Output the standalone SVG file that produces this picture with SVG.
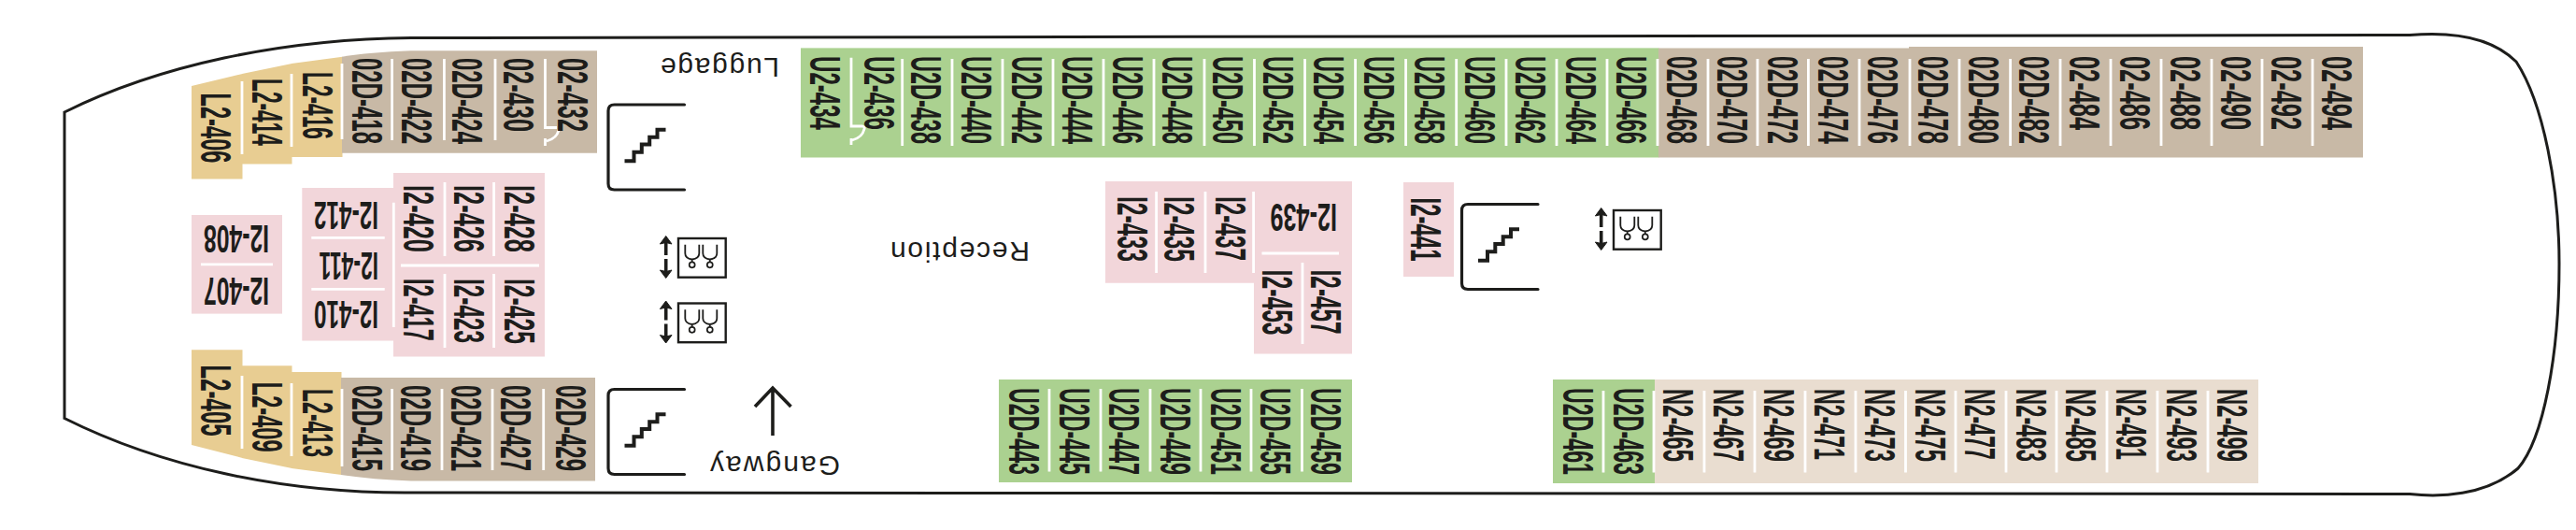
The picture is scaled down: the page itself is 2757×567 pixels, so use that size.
<svg xmlns="http://www.w3.org/2000/svg" xmlns:xlink="http://www.w3.org/1999/xlink" width="2757" height="567" viewBox="0 0 2757 567">
<style>
text{fill:#1d1d1b;font-family:"Liberation Sans",Arial,sans-serif}
.c{font-size:46px;font-weight:700}
.s{font-size:42px;font-weight:700}
.l{font-size:30px}
.sep{fill:none;stroke:#fff;stroke-width:2.8}
.ink{fill:none;stroke:#1d1d1b;stroke-width:3.200}
.tan{fill:#c8b9a6}.yel{fill:#e8cd92}.grn{fill:#abd190}.pnk{fill:#f2d6da}.bge{fill:#e9ddd0}
</style>
<defs>
<g id="stair">
<path class="ink" d="M83 1.500H8Q1.500 1.500 1.500 8V86Q1.500 92.500 8 92.500H83" stroke-linecap="round"/>
<path d="M19 61.700H29V52.300H37.300V44H45.700V36.300H54V28.300H63" fill="none" stroke="#1d1d1b" stroke-width="4"/>
</g>
<g id="lift">
<rect x="14" y="1" width="50.700" height="41.700" fill="none" stroke="#1d1d1b" stroke-width="2.400"/>
<path d="M21.300 7.700V17Q21.300 22.500 28.700 23.500V26M36.300 7.700V17Q36.300 22.500 28.700 23.500M40.300 7.700V17Q40.300 22.500 47.800 23.500V26M55.300 7.700V17Q55.300 22.500 47.800 23.500" fill="none" stroke="#1d1d1b" stroke-width="1.800"/>
<circle cx="28.700" cy="29.300" r="3" fill="none" stroke="#1d1d1b" stroke-width="1.700"/>
<circle cx="47.800" cy="29.300" r="3" fill="none" stroke="#1d1d1b" stroke-width="1.700"/>
<path d="M.7 19V5M.7 23V37" fill="none" stroke="#1d1d1b" stroke-width="3.600"/>
<path d="M.7 -1.500L7 7 .7 5.500-5.600 7ZM.7 43.500L7 35 .7 36.500-5.600 35Z" fill="#1d1d1b" stroke="#1d1d1b" stroke-width="1"/>
</g>
</defs>
<rect width="2757" height="567" fill="#fff"/>
<path id="hull" d="M69 120V447.500C170 498 300 528 440 527L2579 528.500C2610 532 2660 531 2695 501C2722 470 2739 380 2739 282C2739 200 2722 110 2693 66C2665 38 2620 34 2579 37.500L440 40.500C300 42 170 70 69 120Z" fill="none" stroke="#1d1d1b" stroke-width="3"/>

<g id="blocks">
<path class="yel" d="M205 92L259.500 79V191.500H205Z"/>
<path class="yel" d="M259 79L312.500 68V175.500H259Z"/>
<path class="yel" d="M312 68L366.500 60.800V168H312Z"/>
<path class="tan" d="M366 60.800Q395 56 440 54.300H639V163.800H366Z"/>
<path class="yel" d="M205 374.300H259.500V490L205 476Z"/>
<path class="yel" d="M259 391.300H312.500V501L259 490Z"/>
<path class="yel" d="M312 398H365.500V508L312 501Z"/>
<path class="tan" d="M365 404H637V514.600H440Q400 513 365 508Z"/>
<rect class="pnk" x="205" y="230" width="97" height="105.600"/>
<path class="pnk" d="M323.300 201H421V185H583V381.500H421V364.600H323.300Z"/>
<rect class="grn" x="857" y="51.400" width="918.500" height="117.100"/>
<path class="tan" d="M1775 51.400H2043V50H2529V168.500H1775Z"/>
<rect class="grn" x="1069" y="406" width="378" height="110"/>
<rect class="grn" x="1662" y="406" width="109.500" height="111"/>
<rect class="bge" x="1771" y="406" width="646" height="111"/>
<path class="pnk" d="M1183 194H1447V378.600H1342V302.700H1183Z"/>
<rect class="pnk" x="1502" y="195" width="54" height="101"/>
</g>

<g id="dividers">
<path class="sep" d="M366 68V149M419.600 63V150M475.400 63V150M530 63V150M583.500 63V136.500H596M598 139Q596 148 585 151M583.500 148V156"/>
<path class="sep" d="M259 87V165M312 79V157M366 416V499M419.600 416V503M473 416V503M527 416V503M581.700 416V503M259 402V480M312 410V488"/>
<path class="sep" d="M215 282.800H292M333.300 254.300H411.700M333.300 309.300H411.700M421.300 216.700V350M476 195V274M528.600 195V274M476 293V372M528.600 293V372M429 284H577"/>
<path class="sep" d="M911 61.700V135H923Q926 136 925 138Q923 147 912 150M911 148V155M965.700 63V156M1019 63V156M1073 63V156M1127 63V156M1181 63V156M1235 63V156M1289 63V156M1342.500 63V156M1396.600 63V156M1450.600 63V156M1504.600 63V156M1558.700 63V156M1612 63V156M1666 63V156M1720 63V156M1774 63V156M1828 63V156M1881 63V156M1935.400 63V156M1990 63V156M2044 63V156M2097 63V156M2151.600 63V156M2205 63V156M2259 63V156M2313 63V156M2367 63V156M2421 63V156M2475 63V156"/>
<path class="sep" d="M1123 416V504.500M1178 416V504.500M1231 416V504.500M1285 416V504.500M1339 416V504.500M1393.500 416V504.500M1716 418V505.600M1770 418V505.600M1824 418V505.600M1878 418V505.600M1932 418V505.600M1986 418V505.600M2039.500 418V505.600M2093 418V505.600M2147 418V505.600M2201 418V505.600M2255 418V505.600M2309 418V505.600M2363 418V505.600"/>
<path class="sep" d="M1237.600 205V292M1290 205V292M1341.600 205V292M1350.500 271H1433M1394 281V368"/>
</g>

<g id="forward-top">
<text class="c" transform="translate(214.500 99.500) rotate(90)" textLength="75" lengthAdjust="spacingAndGlyphs">L2-406</text>
<text class="c" transform="translate(269.500 84) rotate(90)" textLength="72" lengthAdjust="spacingAndGlyphs">L2-414</text>
<text class="c" transform="translate(323.500 77) rotate(90)" textLength="72" lengthAdjust="spacingAndGlyphs">L2-416</text>
<text class="c" transform="translate(376.500 62) rotate(90)" textLength="92" lengthAdjust="spacingAndGlyphs">02D-418</text>
<text class="c" transform="translate(429.900 62) rotate(90)" textLength="92" lengthAdjust="spacingAndGlyphs">02D-422</text>
<text class="c" transform="translate(483.500 62) rotate(90)" textLength="92" lengthAdjust="spacingAndGlyphs">02D-424</text>
<text class="c" transform="translate(538.500 62) rotate(90)" textLength="79" lengthAdjust="spacingAndGlyphs">02-430</text>
<text class="c" transform="translate(596.500 62) rotate(90)" textLength="79" lengthAdjust="spacingAndGlyphs">02-432</text>
</g>
<g id="forward-bottom">
<text class="c" transform="translate(214.500 390.600) rotate(90)" textLength="76" lengthAdjust="spacingAndGlyphs">L2-405</text>
<text class="c" transform="translate(269.500 408.700) rotate(90)" textLength="75" lengthAdjust="spacingAndGlyphs">L2-409</text>
<text class="c" transform="translate(323.500 416) rotate(90)" textLength="73" lengthAdjust="spacingAndGlyphs">L2-413</text>
<text class="c" transform="translate(376.500 412) rotate(90)" textLength="92" lengthAdjust="spacingAndGlyphs">02D-415</text>
<text class="c" transform="translate(429 412) rotate(90)" textLength="92" lengthAdjust="spacingAndGlyphs">02D-419</text>
<text class="c" transform="translate(482.500 412) rotate(90)" textLength="92" lengthAdjust="spacingAndGlyphs">02D-421</text>
<text class="c" transform="translate(536.200 412) rotate(90)" textLength="92" lengthAdjust="spacingAndGlyphs">02D-427</text>
<text class="c" transform="translate(595.100 412) rotate(90)" textLength="92" lengthAdjust="spacingAndGlyphs">02D-429</text>
</g>
<g id="inside-forward">
<text class="s" transform="translate(288 240.500) rotate(180)" textLength="70" lengthAdjust="spacingAndGlyphs">I2-408</text>
<text class="s" transform="translate(288 296.600) rotate(180)" textLength="70" lengthAdjust="spacingAndGlyphs">I2-407</text>
<text class="s" transform="translate(405 215.700) rotate(180)" textLength="69" lengthAdjust="spacingAndGlyphs">I2-412</text>
<text class="s" transform="translate(405 270) rotate(180)" textLength="63.500" lengthAdjust="spacingAndGlyphs">I2-411</text>
<text class="s" transform="translate(405 322.300) rotate(180)" textLength="69" lengthAdjust="spacingAndGlyphs">I2-410</text>
<text class="c" transform="translate(432 198) rotate(90)" textLength="72" lengthAdjust="spacingAndGlyphs">I2-420</text>
<text class="c" transform="translate(485.500 198) rotate(90)" textLength="72" lengthAdjust="spacingAndGlyphs">I2-426</text>
<text class="c" transform="translate(539.500 198) rotate(90)" textLength="72" lengthAdjust="spacingAndGlyphs">I2-428</text>
<text class="c" transform="translate(432 298) rotate(90)" textLength="67" lengthAdjust="spacingAndGlyphs">I2-417</text>
<text class="c" transform="translate(485.500 298) rotate(90)" textLength="69" lengthAdjust="spacingAndGlyphs">I2-423</text>
<text class="c" transform="translate(539.500 298) rotate(90)" textLength="70" lengthAdjust="spacingAndGlyphs">I2-425</text>
</g>
<g id="top-row">
<text class="c" transform="translate(866.500 60) rotate(90)" textLength="79" lengthAdjust="spacingAndGlyphs">U2-434</text>
<text class="c" transform="translate(924.500 60) rotate(90)" textLength="79" lengthAdjust="spacingAndGlyphs">U2-436</text>
<text class="c" transform="translate(974.500 60) rotate(90)" textLength="94" lengthAdjust="spacingAndGlyphs">U2D-438</text>
<text class="c" transform="translate(1028.500 60) rotate(90)" textLength="94" lengthAdjust="spacingAndGlyphs">U2D-440</text>
<text class="c" transform="translate(1082.500 60) rotate(90)" textLength="94" lengthAdjust="spacingAndGlyphs">U2D-442</text>
<text class="c" transform="translate(1136.500 60) rotate(90)" textLength="94" lengthAdjust="spacingAndGlyphs">U2D-444</text>
<text class="c" transform="translate(1190.500 60) rotate(90)" textLength="94" lengthAdjust="spacingAndGlyphs">U2D-446</text>
<text class="c" transform="translate(1243.500 60) rotate(90)" textLength="94" lengthAdjust="spacingAndGlyphs">U2D-448</text>
<text class="c" transform="translate(1297.500 60) rotate(90)" textLength="94" lengthAdjust="spacingAndGlyphs">U2D-450</text>
<text class="c" transform="translate(1351.500 60) rotate(90)" textLength="94" lengthAdjust="spacingAndGlyphs">U2D-452</text>
<text class="c" transform="translate(1405.500 60) rotate(90)" textLength="94" lengthAdjust="spacingAndGlyphs">U2D-454</text>
<text class="c" transform="translate(1459.500 60) rotate(90)" textLength="94" lengthAdjust="spacingAndGlyphs">U2D-456</text>
<text class="c" transform="translate(1513.500 60) rotate(90)" textLength="94" lengthAdjust="spacingAndGlyphs">U2D-458</text>
<text class="c" transform="translate(1567.500 60) rotate(90)" textLength="94" lengthAdjust="spacingAndGlyphs">U2D-460</text>
<text class="c" transform="translate(1621.500 60) rotate(90)" textLength="94" lengthAdjust="spacingAndGlyphs">U2D-462</text>
<text class="c" transform="translate(1675.500 60) rotate(90)" textLength="94" lengthAdjust="spacingAndGlyphs">U2D-464</text>
<text class="c" transform="translate(1729.500 60) rotate(90)" textLength="94" lengthAdjust="spacingAndGlyphs">U2D-466</text>
<text class="c" transform="translate(1783.500 60) rotate(90)" textLength="94" lengthAdjust="spacingAndGlyphs">02D-468</text>
<text class="c" transform="translate(1837.500 60) rotate(90)" textLength="94" lengthAdjust="spacingAndGlyphs">02D-470</text>
<text class="c" transform="translate(1891.500 60) rotate(90)" textLength="94" lengthAdjust="spacingAndGlyphs">02D-472</text>
<text class="c" transform="translate(1945.500 60) rotate(90)" textLength="94" lengthAdjust="spacingAndGlyphs">02D-474</text>
<text class="c" transform="translate(1998.500 60) rotate(90)" textLength="94" lengthAdjust="spacingAndGlyphs">02D-476</text>
<text class="c" transform="translate(2052.500 60) rotate(90)" textLength="94" lengthAdjust="spacingAndGlyphs">02D-478</text>
<text class="c" transform="translate(2106.500 60) rotate(90)" textLength="94" lengthAdjust="spacingAndGlyphs">02D-480</text>
<text class="c" transform="translate(2160.500 60) rotate(90)" textLength="94" lengthAdjust="spacingAndGlyphs">02D-482</text>
<text class="c" transform="translate(2214.500 60) rotate(90)" textLength="79" lengthAdjust="spacingAndGlyphs">02-484</text>
<text class="c" transform="translate(2268.500 60) rotate(90)" textLength="79" lengthAdjust="spacingAndGlyphs">02-486</text>
<text class="c" transform="translate(2322.500 60) rotate(90)" textLength="79" lengthAdjust="spacingAndGlyphs">02-488</text>
<text class="c" transform="translate(2376.500 60) rotate(90)" textLength="79" lengthAdjust="spacingAndGlyphs">02-490</text>
<text class="c" transform="translate(2430.500 60) rotate(90)" textLength="79" lengthAdjust="spacingAndGlyphs">02-492</text>
<text class="c" transform="translate(2484.500 60) rotate(90)" textLength="79" lengthAdjust="spacingAndGlyphs">02-494</text>
</g>
<g id="bottom-row">
<text class="c" transform="translate(1080 415) rotate(90)" textLength="93" lengthAdjust="spacingAndGlyphs">U2D-443</text>
<text class="c" transform="translate(1133.500 415) rotate(90)" textLength="93" lengthAdjust="spacingAndGlyphs">U2D-445</text>
<text class="c" transform="translate(1187.200 415) rotate(90)" textLength="93" lengthAdjust="spacingAndGlyphs">U2D-447</text>
<text class="c" transform="translate(1241.500 415) rotate(90)" textLength="93" lengthAdjust="spacingAndGlyphs">U2D-449</text>
<text class="c" transform="translate(1295.500 415) rotate(90)" textLength="93" lengthAdjust="spacingAndGlyphs">U2D-451</text>
<text class="c" transform="translate(1348.500 415) rotate(90)" textLength="93" lengthAdjust="spacingAndGlyphs">U2D-455</text>
<text class="c" transform="translate(1402.900 415) rotate(90)" textLength="93" lengthAdjust="spacingAndGlyphs">U2D-459</text>
<text class="c" transform="translate(1672.500 415) rotate(90)" textLength="93" lengthAdjust="spacingAndGlyphs">U2D-461</text>
<text class="c" transform="translate(1726.500 415) rotate(90)" textLength="93" lengthAdjust="spacingAndGlyphs">U2D-463</text>
<text class="c" transform="translate(1780.100 416) rotate(90)" textLength="78" lengthAdjust="spacingAndGlyphs">N2-465</text>
<text class="c" transform="translate(1833.500 416) rotate(90)" textLength="78" lengthAdjust="spacingAndGlyphs">N2-467</text>
<text class="c" transform="translate(1887.500 416) rotate(90)" textLength="78" lengthAdjust="spacingAndGlyphs">N2-469</text>
<text class="c" transform="translate(1941.500 416) rotate(90)" textLength="76" lengthAdjust="spacingAndGlyphs">N2-471</text>
<text class="c" transform="translate(1995.500 416) rotate(90)" textLength="78" lengthAdjust="spacingAndGlyphs">N2-473</text>
<text class="c" transform="translate(2049.500 416) rotate(90)" textLength="78" lengthAdjust="spacingAndGlyphs">N2-475</text>
<text class="c" transform="translate(2103 416) rotate(90)" textLength="76" lengthAdjust="spacingAndGlyphs">N2-477</text>
<text class="c" transform="translate(2157.500 416) rotate(90)" textLength="78" lengthAdjust="spacingAndGlyphs">N2-483</text>
<text class="c" transform="translate(2211 416) rotate(90)" textLength="78" lengthAdjust="spacingAndGlyphs">N2-485</text>
<text class="c" transform="translate(2265 416) rotate(90)" textLength="76" lengthAdjust="spacingAndGlyphs">N2-491</text>
<text class="c" transform="translate(2319.100 416) rotate(90)" textLength="78" lengthAdjust="spacingAndGlyphs">N2-493</text>
<text class="c" transform="translate(2373.100 416) rotate(90)" textLength="78" lengthAdjust="spacingAndGlyphs">N2-499</text>
</g>
<g id="inside-mid">
<text class="c" transform="translate(1195.500 210) rotate(90)" textLength="70" lengthAdjust="spacingAndGlyphs">I2-433</text>
<text class="c" transform="translate(1246 210) rotate(90)" textLength="70" lengthAdjust="spacingAndGlyphs">I2-435</text>
<text class="c" transform="translate(1301 210) rotate(90)" textLength="69" lengthAdjust="spacingAndGlyphs">I2-437</text>
<text class="s" transform="translate(1431 218) rotate(180)" textLength="71.500" lengthAdjust="spacingAndGlyphs">I2-439</text>
<text class="c" transform="translate(1351 288.600) rotate(90)" textLength="70" lengthAdjust="spacingAndGlyphs">I2-453</text>
<text class="c" transform="translate(1402.900 288.600) rotate(90)" textLength="69" lengthAdjust="spacingAndGlyphs">I2-457</text>
<text class="c" transform="translate(1510 211.600) rotate(90)" textLength="68" lengthAdjust="spacingAndGlyphs">I2-441</text>
</g>
<g id="stairs">
<use xlink:href="#stair" href="#stair" x="649.500" y="110.500"/>
<use xlink:href="#stair" href="#stair" x="649.500" y="415"/>
<use xlink:href="#stair" href="#stair" x="1563" y="217"/>
</g>
<g id="lifts">
<use xlink:href="#lift" href="#lift" x="712" y="254"/>
<use xlink:href="#lift" href="#lift" x="712" y="323.500"/>
<use xlink:href="#lift" href="#lift" x="1713" y="224"/>
</g>
<g id="labels">
<text class="l" transform="translate(834 61.500) rotate(180)" textLength="127">Luggage</text>
<text class="l" transform="translate(1102 258.600) rotate(180)" textLength="149">Reception</text>
<text class="l" transform="translate(899 488) rotate(180)" textLength="139">Gangway</text>
</g>
<path id="gangway-arrow" d="M827 466V416M808 435L827 415 846.500 435" fill="none" stroke="#1d1d1b" stroke-width="3.600"/>
</svg>
